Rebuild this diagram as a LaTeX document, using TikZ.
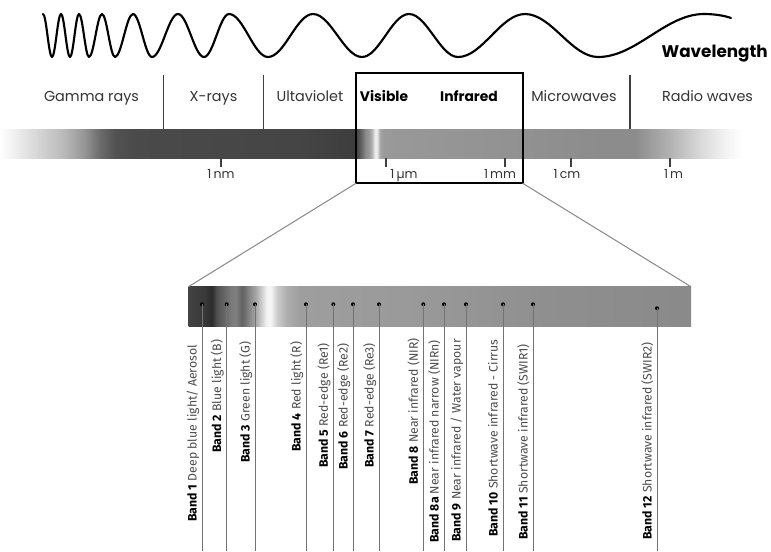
\documentclass[tikz,border=0pt]{standalone}
\usepackage{fontspec}
\newfontfamily\catfont{Poppins}
\newfontfamily\bandfont{Fira Sans}

% Electromagnetic spectrum strip (stops mapped onto the 25bp..75bp range)
\pgfdeclarehorizontalshading{emspec}{100bp}{%
  color(0bp)=(white); color(25bp)=(white);
  color(25.78bp)=(black!5); color(27.27bp)=(black!15);
  color(29.22bp)=(black!28); color(30.51bp)=(black!42);
  color(31.49bp)=(black!58); color(32.46bp)=(black!68);
  color(33.75bp)=(black!71); color(44.46bp)=(black!73);
  color(47.96bp)=(black!76); color(48.22bp)=(black!70);
  color(48.48bp)=(black!58); color(48.74bp)=(black!44);
  color(48.93bp)=(black!40); color(49.12bp)=(black!30);
  color(49.32bp)=(black!6); color(49.45bp)=(black!8);
  color(49.64bp)=(black!35); color(49.90bp)=(black!40);
  color(58.72bp)=(black!43); color(63.91bp)=(black!45);
  color(66.18bp)=(black!45); color(68.45bp)=(black!30);
  color(70.40bp)=(black!15); color(72.02bp)=(black!5);
  color(73.12bp)=(white); color(75bp)=(white); color(100bp)=(white)}

% Enlarged visible / infrared strip
\pgfdeclarehorizontalshading{msibands}{100bp}{%
  color(0bp)=(black!74); color(25bp)=(black!74);
  color(26.64bp)=(black!78); color(27.34bp)=(black!83);
  color(27.84bp)=(black!68); color(28.53bp)=(black!60);
  color(29.23bp)=(black!52); color(29.73bp)=(black!50);
  color(30.32bp)=(black!62); color(30.92bp)=(black!50);
  color(31.72bp)=(black!34); color(32.31bp)=(black!18);
  color(32.81bp)=(black!4); color(33.21bp)=(black!4);
  color(33.81bp)=(black!20); color(34.80bp)=(black!32);
  color(36.09bp)=(black!38); color(48.03bp)=(black!40);
  color(60.97bp)=(black!44); color(75bp)=(black!46);
  color(100bp)=(black!46)}

\begin{document}
\begin{tikzpicture}[x=0.75pt,y=-0.75pt,
  wave/.style={line width=1.6pt, line join=round, line cap=round},
  divider/.style={draw=black!75, line width=0.9pt},
  zoombox/.style={draw=black, line width=1.5pt},
  tickmark/.style={draw=black!75, line width=0.9pt},
  zoomline/.style={draw=black!45, line width=0.8pt},
  bandline/.style={draw=black!55, line width=0.7pt},
  banddot/.style={circle, fill=black, inner sep=0pt, minimum size=3pt},
  catlabel/.style={font=\catfont\fontsize{10.8}{12}\selectfont, text=black!80, inner sep=0pt, anchor=base},
  catbold/.style={font=\catfont\bfseries\fontsize{10.4}{12}\selectfont, text=black, inner sep=0pt, anchor=base},
  ticklabel/.style={font=\catfont\fontsize{9.4}{11}\selectfont, text=black!80, inner sep=0pt, anchor=base},
  wavelabel/.style={font=\catfont\bfseries\fontsize{12.6}{14}\selectfont, text=black, inner sep=0pt, anchor=base east},
  bandlabel/.style={font=\bandfont\fontsize{9.2}{11}\selectfont, text=black!70, inner sep=0pt, rotate=90, anchor=base west},
]
\useasboundingbox (0,0) rectangle (771,551);

% ---- wave of increasing wavelength ----
\draw[wave] (43,14)
  foreach \a/\b/\ya/\yb in {43/52/14/57, 52/61/57/14, 61/70/14/57, 70/79/57/14,
      79/89/14/57, 89/102/57/14, 102/115/14/57, 115/133/57/14, 133/152/14/57,
      152/178/57/14, 178/204/14/57, 204/229/57/14, 229/268/14/57, 268/313/57/14,
      313/362/14/57, 362/409/57/14, 409/458/14/57, 458/525/57/14, 525/598/14/57,
      598/704/57/14}
  { .. controls ({\a+0.3634*(\b-\a)},\ya) and ({\b-0.3634*(\b-\a)},\yb) .. (\b,\yb) }
  .. controls (714,14) and (724,15.5) .. (731,18);
\node[wavelabel] (wl) at (768,57.3) {Wavelength};

% ---- spectrum strip ----
\shade[shading=emspec] (0,129) rectangle (771,158);

% region dividers
\coordinate (d1t) at (163.3,75);  \coordinate (d1b) at (163.3,129);
\coordinate (d2t) at (263.3,75);  \coordinate (d2b) at (263.3,129);
\coordinate (d3t) at (630,75);    \coordinate (d3b) at (630,129);
\draw[divider] (d1t) -- (d1b);
\draw[divider] (d2t) -- (d2b);
\draw[divider] (d3t) -- (d3b);

% region names
\node[catlabel] (gamma) at (91.5,101.7) {Gamma rays};
\node[catlabel] (xray)  at (213.5,101.7) {X-rays};
\node[catlabel] (uv)    at (310,101.7) {Ultaviolet};
\node[catbold]  (vis)   at (384,101.7) {Visible};
\node[catbold]  (ir)    at (469,101.7) {Infrared};
\node[catlabel] (mw)    at (574,101.7) {Microwaves};
\node[catlabel] (radio) at (707.5,101.7) {Radio waves};

% scale ticks and values
\foreach \n/\tx in {nm/221, um/386, mm/505, cm/571, m/670}{
  \coordinate (t\n a) at (\tx,158);
  \coordinate (t\n b) at (\tx,167);
  \draw[tickmark] (t\n a) -- (t\n b);
}
\node[ticklabel] (lnm) at (221,178.3) {1\,nm};
\node[ticklabel] (lum) at (404,178.3) {1\,µm};
\node[ticklabel] (lmm) at (500,178.3) {1\,mm};
\node[ticklabel] (lcm) at (567,178.3) {1\,cm};
\node[ticklabel] (lm)  at (673.5,178.3) {1\,m};

% highlighted window
\coordinate (boxnw) at (356,72.7);
\coordinate (boxse) at (522.7,183.3);
\coordinate (boxsw) at (356,183.3);
\draw[zoombox] (boxnw) rectangle (boxse);

% ---- enlarged strip ----
\coordinate (barnw) at (188.5,286.7);
\coordinate (barne) at (691,286.7);
\coordinate (barse) at (691,326);
\shade[shading=msibands] (barnw) rectangle (barse);
\draw[zoomline] (boxsw) -- (barnw);
\draw[zoomline] (boxse) -- (barne);

% ---- bands ----
\foreach \k/\bx/\by/\ly/\num/\txt in {
   1/202/304.3/522/1/{Deep blue light/ Aerosol},
   2/226.7/304.3/453/2/{Blue light (B)},
   3/255/304.3/463/3/{Green light (G)},
   4/306/304.3/452/4/{Red light (R)},
   5/333.3/304.3/468/5/{Red-edge (Re1)},
   6/353/304.3/470/6/{Red-edge (Re2)},
   7/379/304.3/468/7/{Red-edge (Re3)},
   8/423.3/304.3/485/8/{Near infrared (NIR)},
   9/444/304.3/543/8a/{Near infrared narrow (NIRn)},
  10/466/304.3/542/9/{Near infrared / Water vapour},
  11/503/304.3/537/10/{Shortwave infrared - Cirrus},
  12/533/304.3/540/11/{Shortwave infrared (SWIR1)},
  13/657/308.3/540/12/{Shortwave infrared (SWIR2)}}{
  \node[banddot] (dot\k) at (\bx,\by) {};
  \coordinate (foot\k) at (\bx,551);
  \draw[bandline] (dot\k.center) -- (foot\k);
  \node[bandlabel] (lab\k) at ({\bx-5.5},\ly) {\textcolor{black}{\bfseries Band \num}\ \txt};
}
\end{tikzpicture}
\end{document}
